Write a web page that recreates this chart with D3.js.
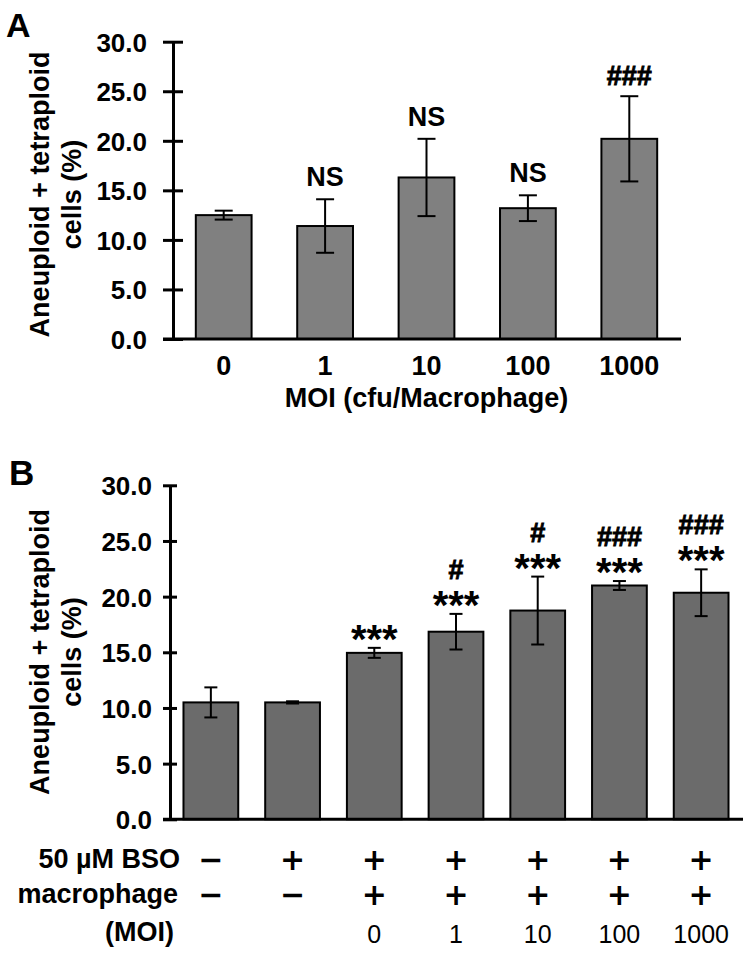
<!DOCTYPE html>
<html>
<head>
<meta charset="utf-8">
<script src="https://cdn.jsdelivr.net/npm/d3@7"></script>
<style>
  html, body { margin: 0; padding: 0; background: #fff; }
  svg { display: block; font-family: "Liberation Sans", Arial, sans-serif; }
</style>
</head>
<body>
<svg id="chart" width="750" height="955"></svg>
<script>
// ---------- data ----------
const categoriesA = ["0", "1", "10", "100", "1000"];
const meansA = [12.5, 11.4, 16.3, 13.2, 20.2];
const errorsA = [0.45, 2.7, 3.9, 1.3, 4.3];
const labelsA = ["", "NS", "NS", "NS", "###"];

const categoriesB = ["c1", "c2", "c3", "c4", "c5", "c6", "c7"];
const meansB = [10.5, 10.5, 14.95, 16.85, 18.75, 21.0, 20.35];
const errorsB = [1.35, 0.1, 0.45, 1.6, 3.05, 0.4, 2.1];
const starsB = ["", "", "***", "***", "***", "***", "***"];
const hashB = ["", "", "", "#", "#", "###", "###"];

const rowBSO = ["\u2212", "+", "+", "+", "+", "+", "+"];
const rowMac = ["\u2212", "\u2212", "+", "+", "+", "+", "+"];
const rowMOI = ["", "", "0", "1", "10", "100", "1000"];
const rowLabels = ["50 \u00b5M BSO", "macrophage", "(MOI)"];

const yTicks = [0, 5, 10, 15, 20, 25, 30];
const yTitle1 = "Aneuploid + tetraploid";
const yTitle2 = "cells (%)";
const xTitleA = "MOI (cfu/Macrophage)";

// ---------- setup ----------
const svg = d3.select("#chart");
const fmt = d3.format(".1f");

function drawYAxis(y, axisX, tickHalf, labelRight) {
  const g = svg.append("g")
    .attr("transform", `translate(${axisX},0)`)
    .call(d3.axisLeft(y).tickValues(yTicks).tickFormat(fmt).tickSize(0).tickSizeOuter(0));
  g.select(".domain").attr("stroke", "#000").attr("stroke-width", 3);
  g.selectAll(".tick line").attr("x1", -tickHalf).attr("x2", tickHalf)
    .attr("stroke", "#000").attr("stroke-width", 3);
  g.selectAll(".tick text")
    .attr("x", labelRight - axisX).attr("dy", "0.36em")
    .attr("font-size", 26).attr("font-weight", "bold")
    .attr("font-family", "'Liberation Sans', Arial, sans-serif").attr("fill", "#000");
  return g;
}

function drawYTitle(cx, cy) {
  svg.append("text")
    .attr("transform", `translate(49,${cy}) rotate(-90)`)
    .attr("text-anchor", "middle").attr("font-size", 27).attr("font-weight", "bold")
    .text(yTitle1);
  svg.append("text")
    .attr("transform", `translate(81,${cy}) rotate(-90)`)
    .attr("text-anchor", "middle").attr("font-size", 27).attr("font-weight", "bold")
    .text(yTitle2);
}

function hashText(x, y, t) {
  svg.append("text").attr("x", x).attr("y", y)
    .attr("text-anchor", "middle").attr("font-size", 27).attr("font-weight", "bold")
    .attr("stroke", "#000").attr("stroke-width", 0.9)
    .text(t);
}

// ---------- Panel A ----------
const yA = d3.scaleLinear().domain([0, 30]).range([339, 41.7]);
const xA = d3.scaleBand().domain(categoriesA).range([173, 680]).paddingInner(0.45).paddingOuter(0.225);

svg.append("text").attr("x", 6).attr("y", 37).attr("font-size", 34).attr("font-weight", "bold").text("A");

svg.selectAll(".barA").data(meansA).join("rect")
  .attr("class", "barA")
  .attr("x", (d, i) => xA(categoriesA[i]))
  .attr("width", xA.bandwidth())
  .attr("y", d => yA(d))
  .attr("height", d => yA(0) - yA(d))
  .attr("fill", "#808080").attr("stroke", "#000").attr("stroke-width", 2);

const errA = svg.append("g").attr("stroke", "#000").attr("stroke-width", 2);
meansA.forEach((m, i) => {
  const cx = xA(categoriesA[i]) + xA.bandwidth() / 2;
  const e = errorsA[i];
  errA.append("line").attr("x1", cx).attr("x2", cx).attr("y1", yA(m - e)).attr("y2", yA(m + e));
  errA.append("line").attr("x1", cx - 9).attr("x2", cx + 9).attr("y1", yA(m + e)).attr("y2", yA(m + e));
  errA.append("line").attr("x1", cx - 9).attr("x2", cx + 9).attr("y1", yA(m - e)).attr("y2", yA(m - e));
  if (labelsA[i] === "NS") {
    svg.append("text").attr("x", cx).attr("y", yA(m + e) - 13)
      .attr("text-anchor", "middle").attr("font-size", 27).attr("font-weight", "bold")
      .text(labelsA[i]);
  } else if (labelsA[i]) {
    hashText(cx, yA(m + e) - 11, labelsA[i]);
  }
});

svg.append("line").attr("x1", xA.range()[0] - 10).attr("x2", xA.range()[1] + 1)
  .attr("y1", yA(0)).attr("y2", yA(0)).attr("stroke", "#000").attr("stroke-width", 3);
drawYAxis(yA, 173, 10, 147);

const gxA = svg.append("g").attr("transform", `translate(0,${yA(0)})`)
  .call(d3.axisBottom(xA).tickSize(0));
gxA.select(".domain").remove();
gxA.selectAll(".tick text").attr("y", 36).attr("dy", 0)
  .attr("font-size", 27).attr("font-weight", "bold")
  .attr("font-family", "'Liberation Sans', Arial, sans-serif").attr("fill", "#000");

svg.append("text").attr("x", (xA.range()[0] + xA.range()[1]) / 2).attr("y", 407)
  .attr("text-anchor", "middle").attr("font-size", 27).attr("font-weight", "bold")
  .text(xTitleA);

drawYTitle(49, 194.5);

// ---------- Panel B ----------
const yB = d3.scaleLinear().domain([0, 30]).range([819.3, 485.3]);
const xB = d3.scaleBand().domain(categoriesB).range([170, 742]).paddingInner(0.33).paddingOuter(0.165);

svg.append("text").attr("x", 9).attr("y", 485).attr("font-size", 35).attr("font-weight", "bold").text("B");

svg.selectAll(".barB").data(meansB).join("rect")
  .attr("class", "barB")
  .attr("x", (d, i) => xB(categoriesB[i]))
  .attr("width", xB.bandwidth())
  .attr("y", d => yB(d))
  .attr("height", d => yB(0) - yB(d))
  .attr("fill", "#6b6b6b").attr("stroke", "#000").attr("stroke-width", 2);

const errB = svg.append("g").attr("stroke", "#000").attr("stroke-width", 2);
meansB.forEach((m, i) => {
  const cx = xB(categoriesB[i]) + xB.bandwidth() / 2;
  const e = errorsB[i];
  errB.append("line").attr("x1", cx).attr("x2", cx).attr("y1", yB(m - e)).attr("y2", yB(m + e));
  errB.append("line").attr("x1", cx - 6.5).attr("x2", cx + 6.5).attr("y1", yB(m + e)).attr("y2", yB(m + e));
  errB.append("line").attr("x1", cx - 6.5).attr("x2", cx + 6.5).attr("y1", yB(m - e)).attr("y2", yB(m - e));
  const starBase = yB(m + e) - 12 + 17;
  if (starsB[i]) {
    svg.append("text").attr("x", cx).attr("y", starBase)
      .attr("text-anchor", "middle").attr("font-size", 40).attr("font-weight", "bold")
      .text(starsB[i]);
  }
  if (hashB[i]) {
    hashText(cx, starBase - 17 - 15 - 8, hashB[i]);
  }
});

svg.append("line").attr("x1", xB.range()[0] - 7).attr("x2", xB.range()[1] + 1)
  .attr("y1", yB(0)).attr("y2", yB(0)).attr("stroke", "#000").attr("stroke-width", 3);
drawYAxis(yB, 170, 7, 152);
drawYTitle(49, 652);

// ---------- condition table ----------
const rowY = [868, 903, 941];
const labelRight = [180, 178, 174];
rowLabels.forEach((t, r) => {
  svg.append("text").attr("x", labelRight[r]).attr("y", rowY[r])
    .attr("text-anchor", "end").attr("font-size", 27).attr("font-weight", "bold").text(t);
});
[rowBSO, rowMac].forEach((row, r) => {
  row.forEach((s, i) => {
    const cx = xB(categoriesB[i]) + xB.bandwidth() / 2;
    svg.append("text").attr("x", cx).attr("y", rowY[r] + 2)
      .attr("text-anchor", "middle").attr("font-size", 30).attr("font-weight", "bold")
      .attr("font-family", "'DejaVu Sans', sans-serif").text(s);
  });
});
rowMOI.forEach((s, i) => {
  if (!s) return;
  const cx = xB(categoriesB[i]) + xB.bandwidth() / 2;
  svg.append("text").attr("x", cx).attr("y", 943)
    .attr("text-anchor", "middle").attr("font-size", 25).text(s);
});
</script>
</body>
</html>
